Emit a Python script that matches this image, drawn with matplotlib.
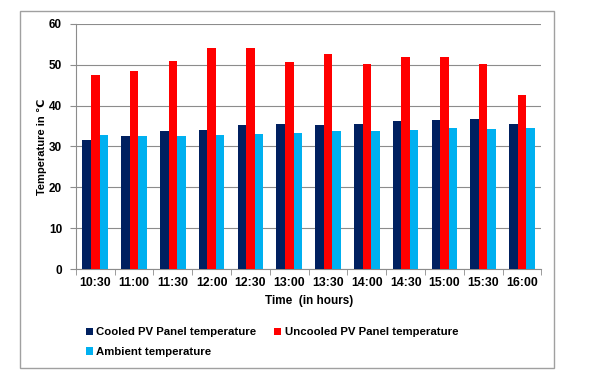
import numpy as np
import matplotlib
matplotlib.use("Agg")
import matplotlib.pyplot as plt
from matplotlib.patches import Rectangle

plt.rcParams['font.family'] = ['Liberation Sans', 'DejaVu Sans']
plt.rcParams['font.weight'] = 'bold'

times = ["10:30", "11:00", "11:30", "12:00", "12:30", "13:00",
         "13:30", "14:00", "14:30", "15:00", "15:30", "16:00"]
cooled = [31.6, 32.5, 33.7, 34.0, 35.2, 35.4, 35.2, 35.4, 36.3, 36.6, 36.8, 35.6]
uncooled = [47.5, 48.6, 50.9, 54.1, 54.2, 50.6, 52.7, 50.1, 51.8, 51.8, 50.1, 42.7]
ambient = [32.8, 32.5, 32.5, 32.7, 33.0, 33.4, 33.8, 33.8, 34.0, 34.6, 34.3, 34.6]

fig = plt.figure(figsize=(5.93, 3.86), dpi=100)
ax = fig.add_axes([0.128, 0.303, 0.785, 0.635])

x = np.arange(len(times))
w = 0.22
b1 = ax.bar(x - w, cooled, w, color="#002060", zorder=3)
b2 = ax.bar(x, uncooled, w, color="#FF0000", zorder=3)
b3 = ax.bar(x + w, ambient, w, color="#00B0F0", zorder=3)

ax.set_xlim(-0.5, len(times) - 0.5)
ax.set_ylim(0, 60)
ax.set_yticks(range(0, 61, 10))
ax.yaxis.grid(True, color="#8c8c8c", linewidth=0.8, zorder=0)

# labels between the tick marks, as in the original
ax.set_xticks(x)
ax.set_xticklabels(times, fontsize=8.8, fontweight="bold")
ax.set_xticks(np.arange(-0.5, len(times)), minor=True)
ax.tick_params(axis="x", which="major", length=0, pad=6)
ax.tick_params(axis="x", which="minor", length=4, color="#8c8c8c")
ax.tick_params(axis="y", length=4, color="#8c8c8c", labelsize=8.5, pad=6)
for lab in ax.get_yticklabels():
    lab.set_fontweight("bold")

for s in ["top", "right"]:
    ax.spines[s].set_visible(False)
for s in ["left", "bottom"]:
    ax.spines[s].set_color("#8c8c8c")

ax.set_xlabel("Time  (in hours)", fontsize=8.5, fontweight="bold")
ax.xaxis.set_label_coords(0.5, -0.105)
ax.set_ylabel("Temperature in \u2103", fontsize=8, fontweight="bold")
ax.yaxis.set_label_coords(-0.062, 0.5)

leg = fig.legend([b1, b3, b2],
                 ["Cooled PV Panel temperature", "Ambient temperature",
                  "Uncooled PV Panel temperature"],
                 ncol=2, loc="upper left", bbox_to_anchor=(0.135, 0.167),
                 frameon=False, fontsize=8.2, handlelength=0.6, handleheight=0.6,
                 handletextpad=0.3, columnspacing=1.6, labelspacing=0.85,
                 borderpad=0)

fig.patches.append(Rectangle((0.0337, 0.0466), 0.9005, 0.925,
                             transform=fig.transFigure, fill=False,
                             edgecolor="#a0a0a0", linewidth=1.0))

fig.savefig("out.png", dpi=100)
